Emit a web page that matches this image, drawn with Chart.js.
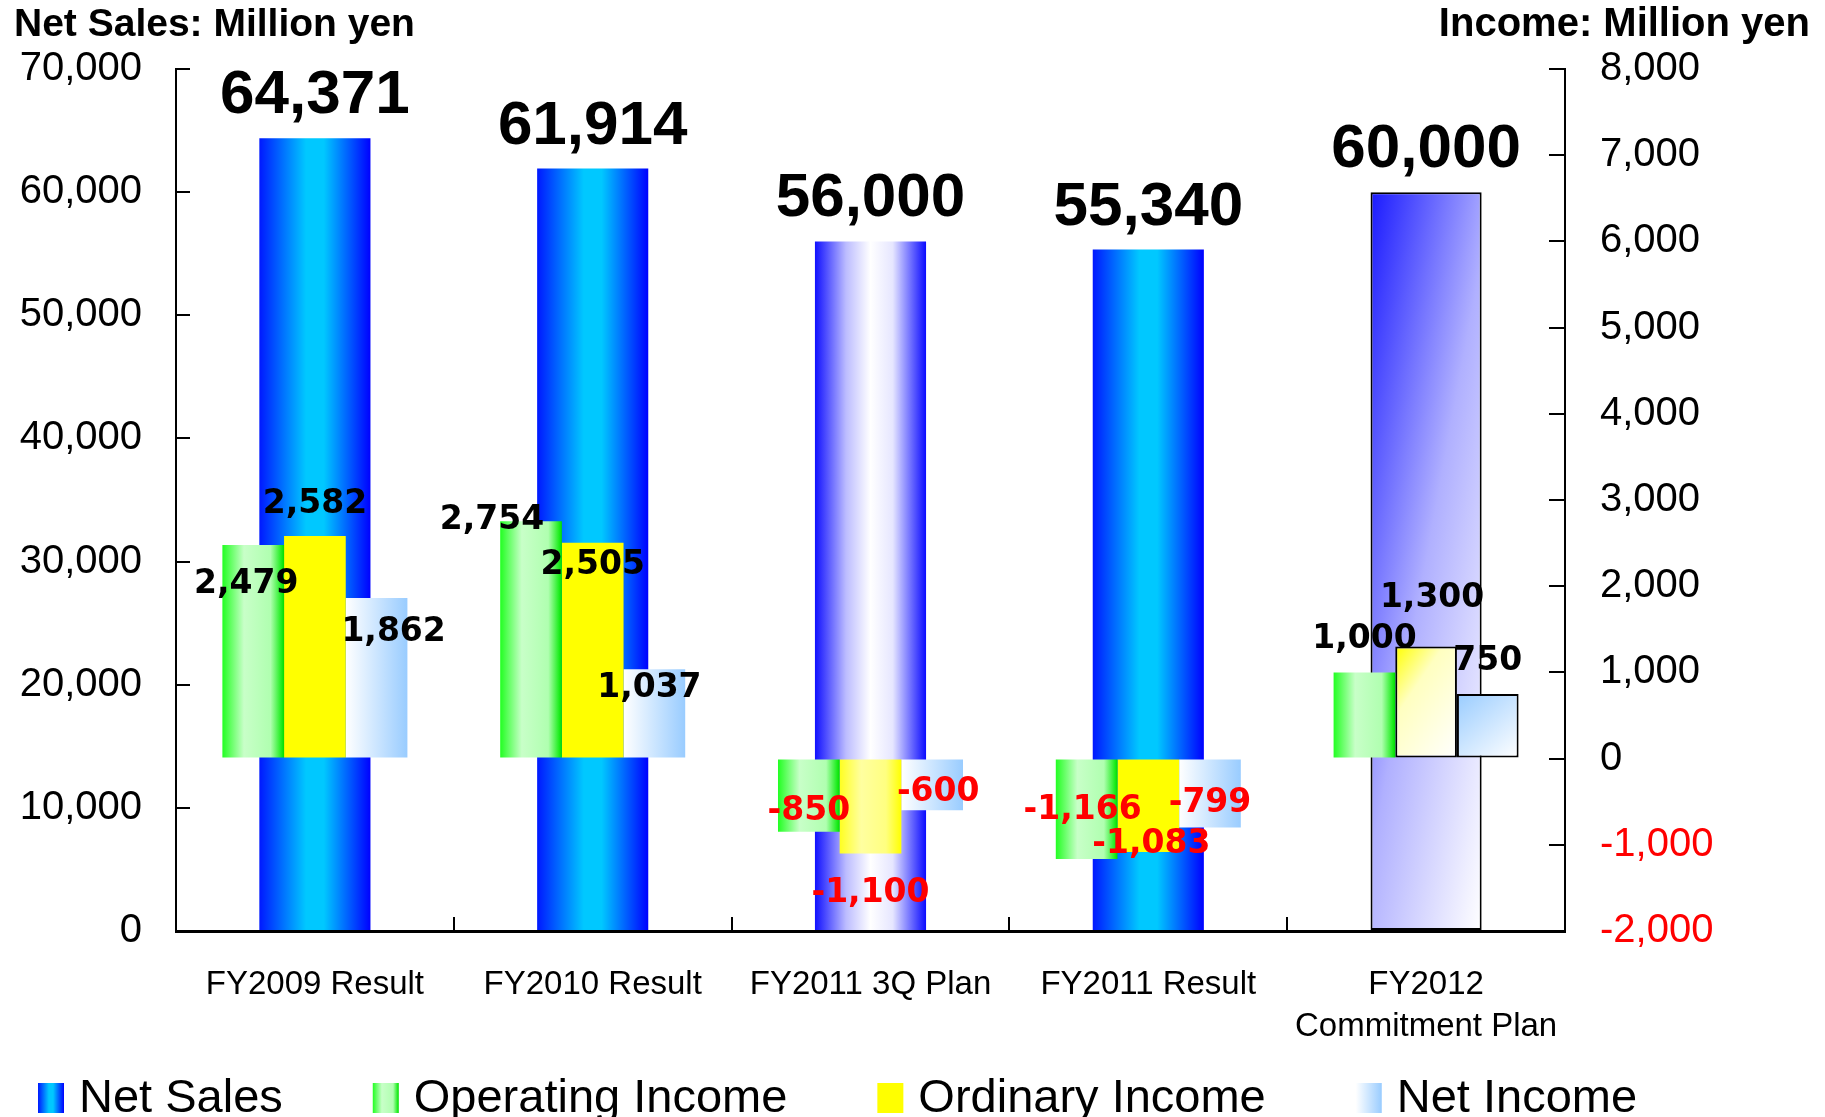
<!DOCTYPE html>
<html>
<head>
<meta charset="utf-8">
<title>Net Sales and Income</title>
<script src="https://cdn.jsdelivr.net/npm/chart.js@4.4.1/dist/chart.umd.min.js"></script>
<style>
  html, body { margin: 0; padding: 0; background: #fff; }
  canvas { display: block; }
</style>
</head>
<body>
<canvas id="chart1" width="1825" height="1117"></canvas>
<script>
// data
const categories = ['FY2009 Result', 'FY2010 Result', 'FY2011 3Q Plan', 'FY2011 Result', ['FY2012', 'Commitment Plan']];
const netSales = [64371, 61914, 56000, 55340, 60000];
const operatingIncome = [2479, 2754, -850, -1166, 1000];
const ordinaryIncome = [2582, 2505, -1100, -1083, 1300];
const netIncome = [1862, 1037, -600, -799, 750];
const salesTicks = [0, 10000, 20000, 30000, 40000, 50000, 60000, 70000];
const incomeTicks = [-2000, -1000, 0, 1000, 2000, 3000, 4000, 5000, 6000, 7000, 8000];
const seriesNames = ['Net Sales', 'Operating Income', 'Ordinary Income', 'Net Income'];
const salesUnit = 'Net Sales: Million yen';
const incomeUnit = 'Income: Million yen';

// styling
const FONT = '"Liberation Sans", Arial, sans-serif';
const columnKind = ['result', 'result', 'plan', 'result', 'commit'];

const greenStops = ['h', [[0, '#22ff22'], [0.35, '#c8ffc8'], [0.78, '#b0ffb0'], [0.95, '#22ee22'], [1, '#00dd00']]];
const fills = {
    sales: {
        result: ['h', [[0, '#0018ff'], [0.42, '#00c8ff'], [0.58, '#00c8ff'], [1, '#0000ff']]],
        plan: ['h', [[0, '#1010ff'], [0.28, '#bcbcff'], [0.5, '#ffffff'], [0.7, '#e6e6ff'], [1, '#0a0aff']]],
        commit: ['d', [[0, '#1a1aff'], [0.5, '#b0b0ff'], [1, '#ffffff']]]
    },
    operating: { result: greenStops, plan: greenStops, commit: greenStops },
    ordinary: {
        result: '#ffff00',
        plan: ['h', [[0, '#ffff20'], [0.35, '#ffffa0'], [0.75, '#ffff80'], [1, '#ffff00']]],
        commit: ['d', [[0, '#ffff00'], [0.35, '#ffffc0'], [1, '#ffffff']]]
    },
    net: {
        result: ['h', [[0, '#ffffff'], [1, '#99ccff']]],
        plan: ['h', [[0, '#ffffff'], [1, '#99ccff']]],
        commit: ['d', [[0, '#99ccff'], [1, '#ffffff']]]
    }
};
const flatFill = { sales: '#0060ff', operating: '#66ff66', ordinary: '#ffff00', net: '#bbddff' };
const legendKeys = ['sales', 'operating', 'ordinary', 'net'];

// label placement around the end of each income bar (dx, dy of the text centre)
const labelShift = {
    1: [[-7, 36], [-39, -4], [0, -24], [-4, -52], [0, -36]],
    2: [[0, -35], [0, 19], [0, 37], [3, -11], [6, -52]],
    3: [[17, 31], [-5, 16], [6, -21], [0, -27], [0, -36]]
};

function makeFill(ctx, spec, l, t, w, h) {
    if (typeof spec === 'string') return spec;
    const [dir, stops] = spec;
    let g;
    if (dir === 'h') {
        g = ctx.createLinearGradient(l, 0, l + w, 0);
    } else {
        // diagonal: top-left dark, bottom-right light
        const ax = 0.45, ay = 0.55;
        const s = (ax * ax) / (w * w) + (ay * ay) / (h * h);
        g = ctx.createLinearGradient(l, t, l + ax / w / s, t + ay / h / s);
    }
    stops.forEach(st => g.addColorStop(st[0], st[1]));
    return g;
}

function fillFor(key) {
    return c => {
        const el = c.element;
        const kind = columnKind[c.dataIndex];
        if (!el || !kind || !el.width) return flatFill[key];
        const top = Math.min(el.y, el.base);
        return makeFill(c.chart.ctx, fills[key][kind], el.x - el.width / 2, top, el.width, Math.abs(el.base - el.y));
    };
}

const commitBorder = c => columnKind[c.dataIndex] === 'commit' ? 2 : 0;

// keep the big tick padding from pushing the plot area down
const trimPadding = s => { s.paddingTop = 20; s.paddingBottom = 20; };

const valueLabels = {
    id: 'valueLabels',
    afterDatasetsDraw(chart) {
        const ctx = chart.ctx;
        ctx.save();
        ctx.textAlign = 'center';
        ctx.textBaseline = 'alphabetic';
        chart.data.datasets.forEach((ds, di) => {
            chart.getDatasetMeta(di).data.forEach((bar, i) => {
                const v = ds.data[i];
                const text = v.toLocaleString('en-US');
                if (di === 0) {
                    ctx.font = 'bold 62px ' + FONT;
                    ctx.fillStyle = '#000';
                    ctx.fillText(text, bar.x, bar.y - 25);
                } else {
                    const [dx, dy] = labelShift[di][i];
                    ctx.font = 'bold 33px "DejaVu Sans", sans-serif';
                    ctx.fillStyle = v < 0 ? '#ff0000' : '#000';
                    ctx.fillText(text, bar.x + dx, bar.y + dy + 12);
                }
            });
        });
        ctx.restore();
    }
};

const frameText = {
    id: 'frameText',
    afterDraw(chart) {
        const ctx = chart.ctx;
        ctx.save();
        ctx.fillStyle = '#000';
        ctx.textBaseline = 'alphabetic';
        ctx.font = 'bold 39px ' + FONT;
        ctx.textAlign = 'left';
        ctx.fillText(salesUnit, 14, 36);
        ctx.font = 'bold 40px ' + FONT;
        ctx.textAlign = 'right';
        ctx.fillText(incomeUnit, chart.width - 15, 36);

        // legend row
        ctx.font = '47px ' + FONT;
        ctx.textAlign = 'left';
        let x = 38;
        const top = 1083, w = 26, h = 30;
        legendKeys.forEach((key, i) => {
            ctx.fillStyle = makeFill(ctx, fills[key].result, x, top, w, h);
            ctx.fillRect(x, top, w, h);
            ctx.fillStyle = '#000';
            ctx.fillText(seriesNames[i], x + 41, 1112);
            x += 41 + ctx.measureText(seriesNames[i]).width + 90;
        });
        ctx.restore();
    }
};

const incomeBar = {
    yAxisID: 'y2',
    order: 1,
    grouped: true,
    categoryPercentage: 0.666,
    barPercentage: 1,
    borderColor: '#000',
    borderSkipped: false
};

const ctx1 = document.getElementById('chart1').getContext('2d');
const chart = new Chart(ctx1, {
    type: 'bar',
    data: {
        labels: categories,
        datasets: [{
            label: seriesNames[0],
            data: netSales,
            yAxisID: 'y',
            order: 2,
            grouped: false,
            categoryPercentage: 0.4,
            barPercentage: 1,
            backgroundColor: fillFor('sales'),
            borderColor: '#000',
            borderWidth: commitBorder,
            borderSkipped: false
        }, {
            ...incomeBar,
            label: seriesNames[1],
            data: operatingIncome,
            backgroundColor: fillFor('operating'),
            borderWidth: 0
        }, {
            ...incomeBar,
            label: seriesNames[2],
            data: ordinaryIncome,
            backgroundColor: fillFor('ordinary'),
            borderWidth: commitBorder
        }, {
            ...incomeBar,
            label: seriesNames[3],
            data: netIncome,
            backgroundColor: fillFor('net'),
            borderWidth: commitBorder
        }]
    },
    options: {
        responsive: false,
        animation: false,
        devicePixelRatio: 1,
        layout: { padding: { top: 69, left: 0, right: 0, bottom: 66 } },
        plugins: {
            legend: { display: false },
            tooltip: { enabled: false }
        },
        scales: {
            x: {
                type: 'category',
                position: 'bottom',
                offset: true,
                grid: { offset: true, drawOnChartArea: false, color: '#000', lineWidth: 2, tickLength: -14 },
                border: { color: '#000', width: 3 },
                ticks: {
                    color: '#000',
                    font: { family: FONT, size: 33, lineHeight: 1.3 },
                    padding: 46,
                    maxRotation: 0,
                    autoSkip: false
                },
                afterFit: s => { s.height = 120; }
            },
            y: {
                position: 'left',
                min: salesTicks[0],
                max: salesTicks[salesTicks.length - 1],
                afterBuildTicks: s => { s.ticks = salesTicks.map(v => ({ value: v })); },
                grid: { drawOnChartArea: false, color: '#000', lineWidth: 2, tickLength: -14 },
                border: { color: '#000', width: 2 },
                ticks: {
                    color: '#000',
                    font: { family: FONT, size: 40 },
                    padding: 48,
                    callback: v => v.toLocaleString('en-US')
                },
                afterFit: s => { s.width = 176; trimPadding(s); }
            },
            y2: {
                position: 'right',
                min: incomeTicks[0],
                max: incomeTicks[incomeTicks.length - 1],
                afterBuildTicks: s => { s.ticks = incomeTicks.map(v => ({ value: v })); },
                grid: { drawOnChartArea: false, color: '#000', lineWidth: 2, tickLength: -16 },
                border: { color: '#000', width: 2 },
                ticks: {
                    color: c => c.tick && c.tick.value < 0 ? '#ff0000' : '#000',
                    font: { family: FONT, size: 40 },
                    padding: 51,
                    callback: v => v.toLocaleString('en-US')
                },
                afterFit: s => { s.width = 260; trimPadding(s); }
            }
        }
    },
    plugins: [valueLabels, frameText]
});
// second pass so the gradients can use the bar geometry from the first layout
chart.update();
</script>
</body>
</html>
